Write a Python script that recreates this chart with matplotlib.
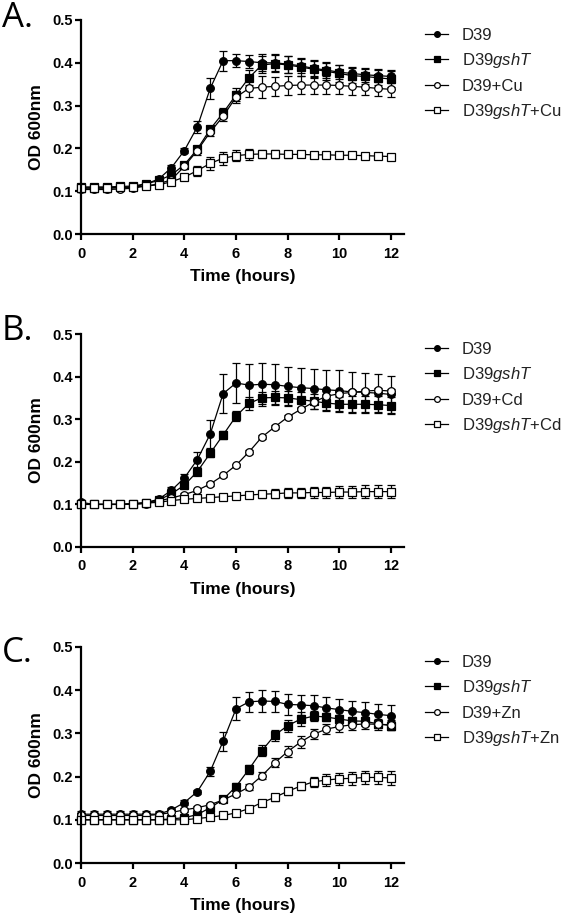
import numpy as np
import matplotlib
matplotlib.use('Agg')
import matplotlib.pyplot as plt

plt.rcParams['font.family'] = ['Liberation Sans', 'DejaVu Sans']
plt.rcParams['mathtext.fontset'] = 'custom'
plt.rcParams['mathtext.rm'] = 'Liberation Sans'
plt.rcParams['mathtext.it'] = 'Liberation Sans:italic'

# time points (hours)
hours = [0, 0.5, 1, 1.5, 2, 2.5, 3, 3.5, 4, 4.5, 5, 5.5, 6, 6.5, 7, 7.5, 8, 8.5,
         9, 9.5, 10, 10.5, 11, 11.5, 12]

# Panel A (Cu)
a_d39 = [0.107, 0.107, 0.107, 0.108, 0.109, 0.117, 0.128, 0.155, 0.195, 0.250, 0.340, 0.405, 0.405,
         0.403, 0.400, 0.400, 0.397, 0.393, 0.387, 0.383, 0.378, 0.375, 0.372, 0.370, 0.368]
a_d39_err = [0.010, 0.005, 0.005, 0.005, 0.005, 0.005, 0.006, 0.006, 0.006, 0.015, 0.025, 0.023, 0.015,
             0.015, 0.020, 0.020, 0.020, 0.018, 0.020, 0.018, 0.017, 0.016, 0.016, 0.015, 0.015]
a_gsht = [0.110, 0.110, 0.110, 0.111, 0.112, 0.117, 0.125, 0.138, 0.162, 0.198, 0.245, 0.283, 0.325,
          0.365, 0.395, 0.398, 0.395, 0.390, 0.385, 0.380, 0.375, 0.370, 0.368, 0.365, 0.362]
a_gsht_err = [0.005, 0.005, 0.005, 0.005, 0.005, 0.005, 0.005, 0.005, 0.006, 0.008, 0.008, 0.012, 0.015,
              0.018, 0.020, 0.020, 0.020, 0.020, 0.020, 0.020, 0.020, 0.018, 0.018, 0.018, 0.018]
a_met = [0.104, 0.104, 0.104, 0.105, 0.107, 0.112, 0.117, 0.127, 0.158, 0.195, 0.238, 0.275, 0.320,
         0.340, 0.343, 0.345, 0.347, 0.348, 0.348, 0.348, 0.347, 0.345, 0.343, 0.340, 0.338]
a_met_err = [0.005, 0.005, 0.005, 0.005, 0.005, 0.005, 0.005, 0.005, 0.006, 0.010, 0.010, 0.010, 0.015,
             0.020, 0.025, 0.022, 0.022, 0.022, 0.020, 0.020, 0.020, 0.020, 0.018, 0.018, 0.018]
a_gsht_met = [0.108, 0.108, 0.108, 0.109, 0.110, 0.112, 0.115, 0.122, 0.133, 0.148, 0.165, 0.177, 0.183,
              0.186, 0.187, 0.187, 0.186, 0.186, 0.185, 0.185, 0.184, 0.184, 0.183, 0.182, 0.181]
a_gsht_met_err = [0.004, 0.004, 0.004, 0.004, 0.004, 0.004, 0.005, 0.006, 0.006, 0.012, 0.015, 0.015, 0.013,
                  0.012, 0.010, 0.010, 0.008, 0.007, 0.007, 0.006, 0.005, 0.005, 0.004, 0.004, 0.004]

# Panel B (Cd)
b_d39 = [0.105, 0.100, 0.100, 0.100, 0.102, 0.104, 0.112, 0.133, 0.162, 0.205, 0.265, 0.360, 0.385,
         0.380, 0.382, 0.381, 0.377, 0.374, 0.372, 0.369, 0.367, 0.364, 0.363, 0.361, 0.358]
b_d39_err = [0.006, 0.003, 0.003, 0.003, 0.003, 0.003, 0.005, 0.008, 0.010, 0.018, 0.032, 0.045, 0.048,
             0.050, 0.050, 0.048, 0.046, 0.047, 0.047, 0.047, 0.048, 0.047, 0.045, 0.045, 0.044]
b_gsht = [0.100, 0.100, 0.100, 0.100, 0.101, 0.104, 0.110, 0.125, 0.145, 0.177, 0.220, 0.263, 0.307,
          0.337, 0.350, 0.351, 0.350, 0.346, 0.342, 0.338, 0.335, 0.335, 0.335, 0.334, 0.332]
b_gsht_err = [0.003, 0.003, 0.003, 0.003, 0.003, 0.003, 0.005, 0.008, 0.008, 0.008, 0.008, 0.010, 0.012,
              0.015, 0.015, 0.016, 0.017, 0.017, 0.017, 0.018, 0.018, 0.020, 0.020, 0.020, 0.020]
b_met = [0.100, 0.100, 0.100, 0.100, 0.100, 0.102, 0.108, 0.115, 0.123, 0.133, 0.148, 0.168, 0.192,
         0.223, 0.258, 0.282, 0.305, 0.323, 0.340, 0.354, 0.360, 0.363, 0.366, 0.368, 0.366]
b_met_err = [0.003, 0.003, 0.003, 0.003, 0.003, 0.003, 0.003, 0.004, 0.004, 0.004, 0.004, 0.004, 0.004,
             0.004, 0.004, 0.004, 0.004, 0.004, 0.005, 0.005, 0.005, 0.005, 0.005, 0.005, 0.005]
b_gsht_met = [0.100, 0.100, 0.100, 0.100, 0.101, 0.103, 0.105, 0.109, 0.112, 0.114, 0.116, 0.118, 0.120,
              0.122, 0.124, 0.125, 0.127, 0.127, 0.128, 0.128, 0.129, 0.129, 0.130, 0.130, 0.130]
b_gsht_met_err = [0.003, 0.003, 0.003, 0.003, 0.003, 0.003, 0.004, 0.004, 0.005, 0.005, 0.005, 0.006, 0.006,
                  0.007, 0.008, 0.010, 0.011, 0.012, 0.013, 0.014, 0.015, 0.015, 0.016, 0.016, 0.016]

# Panel C (Zn)
c_d39 = [0.113, 0.113, 0.113, 0.113, 0.113, 0.113, 0.113, 0.123, 0.140, 0.165, 0.212, 0.282, 0.357,
         0.373, 0.375, 0.374, 0.367, 0.366, 0.364, 0.359, 0.355, 0.351, 0.348, 0.344, 0.341]
c_d39_err = [0.007, 0.007, 0.007, 0.007, 0.007, 0.007, 0.007, 0.005, 0.005, 0.005, 0.010, 0.022, 0.027,
             0.023, 0.025, 0.025, 0.024, 0.023, 0.025, 0.025, 0.025, 0.025, 0.025, 0.023, 0.025]
c_gsht = [0.100, 0.100, 0.100, 0.100, 0.100, 0.100, 0.100, 0.102, 0.105, 0.112, 0.128, 0.147, 0.177,
          0.217, 0.260, 0.296, 0.318, 0.333, 0.340, 0.338, 0.333, 0.329, 0.328, 0.322, 0.318]
c_gsht_err = [0.007, 0.007, 0.007, 0.007, 0.007, 0.007, 0.007, 0.005, 0.005, 0.005, 0.006, 0.006, 0.008,
              0.010, 0.012, 0.013, 0.014, 0.016, 0.012, 0.010, 0.010, 0.010, 0.010, 0.010, 0.010]
c_met = [0.110, 0.110, 0.110, 0.110, 0.110, 0.110, 0.112, 0.117, 0.123, 0.128, 0.135, 0.146, 0.160,
         0.176, 0.202, 0.232, 0.258, 0.280, 0.298, 0.310, 0.316, 0.320, 0.322, 0.321, 0.320]
c_met_err = [0.006, 0.006, 0.006, 0.006, 0.006, 0.006, 0.006, 0.005, 0.005, 0.005, 0.005, 0.005, 0.006,
             0.006, 0.008, 0.010, 0.012, 0.014, 0.012, 0.012, 0.012, 0.012, 0.012, 0.012, 0.012]
c_gsht_met = [0.100, 0.100, 0.100, 0.100, 0.100, 0.100, 0.100, 0.100, 0.100, 0.103, 0.106, 0.110, 0.116,
              0.126, 0.140, 0.152, 0.166, 0.178, 0.188, 0.192, 0.195, 0.196, 0.198, 0.198, 0.197]
c_gsht_met_err = [0.005, 0.005, 0.005, 0.005, 0.005, 0.005, 0.005, 0.005, 0.005, 0.005, 0.005, 0.005, 0.005,
                  0.006, 0.006, 0.008, 0.009, 0.010, 0.012, 0.013, 0.014, 0.015, 0.016, 0.016, 0.016]

panels = [
    ('A.', 'Cu', [a_d39, a_gsht, a_met, a_gsht_met], [a_d39_err, a_gsht_err, a_met_err, a_gsht_met_err]),
    ('B.', 'Cd', [b_d39, b_gsht, b_met, b_gsht_met], [b_d39_err, b_gsht_err, b_met_err, b_gsht_met_err]),
    ('C.', 'Zn', [c_d39, c_gsht, c_met, c_gsht_met], [c_d39_err, c_gsht_err, c_met_err, c_gsht_met_err]),
]

# axes boxes in pixels: (top, bottom)
boxes = [(20, 234), (334, 547), (647, 863)]
letter_base = [27, 340, 662]

W, H = 566, 913
fig = plt.figure(figsize=(W / 100, H / 100), dpi=100)

styles = [('o', 'black'), ('s', 'black'), ('o', 'white'), ('s', 'white')]

for (letter, metal, series, errs), (top, bot), lb in zip(panels, boxes, letter_base):
    ax = fig.add_axes([81 / W, 1 - bot / H, 323 / W, (bot - top) / H])
    labels = ['D39', r'D39$\mathit{gshT}$', 'D39+' + metal, r'D39$\mathit{gshT}$+' + metal]
    for (mk, fc), y, e, lab in zip(styles, series, errs, labels):
        ax.errorbar(hours, y, yerr=e, marker=mk, markersize=5.5, markerfacecolor=fc,
                    markeredgecolor='black', markeredgewidth=0.9, color='black', lw=0.9,
                    elinewidth=0.9, capsize=3, capthick=0.9, label=lab, clip_on=False)
    ax.set_xlim(0, 12.5)
    ax.set_ylim(0, 0.5)
    ax.set_xticks([0, 2, 4, 6, 8, 10, 12])
    ax.set_yticks([0.0, 0.1, 0.2, 0.3, 0.4, 0.5])
    ax.set_yticklabels(['0.0', '0.1', '0.2', '0.3', '0.4', '0.5'])
    for s in ['top', 'right']:
        ax.spines[s].set_visible(False)
    for s in ['left', 'bottom']:
        ax.spines[s].set_linewidth(1.6)
    ax.tick_params(width=1.6, length=4, labelsize=10.5)
    ax.tick_params(axis='x', pad=5)
    ax.tick_params(axis='y', pad=2)
    for t in ax.get_xticklabels() + ax.get_yticklabels():
        t.set_fontweight('bold')
    ax.set_xlabel('Time (hours)', fontsize=12.5, fontweight='bold', labelpad=6)
    ax.set_ylabel('OD 600nm', fontsize=12.5, fontweight='bold', labelpad=6)
    handles, labs = ax.get_legend_handles_labels()
    handles = [h[0] for h in handles]
    leg = ax.legend(handles, labs, loc='upper left', bbox_to_anchor=(425 / W, 1 - (top + 8) / H),
                    bbox_transform=fig.transFigure, frameon=False, fontsize=12, borderpad=0,
                    borderaxespad=0, handlelength=1.4, handletextpad=0.8, labelspacing=0.5,
                    markerscale=0.75)
    for t in leg.get_texts():
        t.set_color('#222222')
    fig.text(2 / W, 1 - lb / H, letter, fontsize=25, family='Open Sans', va='baseline', ha='left')

fig.savefig('out.png', dpi=100)
